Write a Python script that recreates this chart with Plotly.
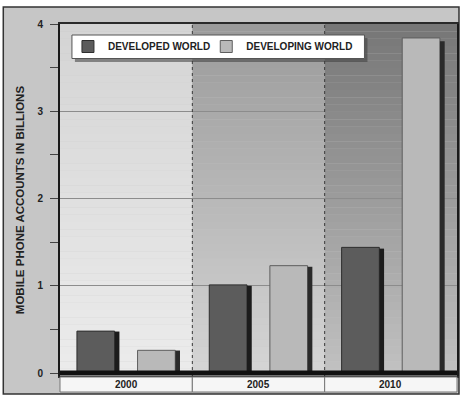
import plotly.graph_objects as go

# ---- data ----
years = ["2000", "2005", "2010"]
developed = [0.48, 1.01, 1.44]
developing = [0.26, 1.23, 3.84]
series_names = ["DEVELOPED WORLD", "DEVELOPING WORLD"]
y_ticks = [0, 1, 2, 3, 4]
y_title = "MOBILE PHONE ACCOUNTS IN BILLIONS"

# ---- layout constants (pixels) ----
W, H = 464, 397
ML, MR, MT, MB = 60, 5, 24, 21
PW, PH = W - ML - MR, H - MT - MB
Y_LO = -3 / 87.25
Y_HI = 4.0
FONT = "Liberation Sans, Arial, sans-serif"

def px_x(p):
    return (p - ML) / PW

def px_y(p):
    return (H - MB - p) / PH

pos = list(range(len(years)))

def mix(c1, c2, t):
    a = [int(c1[i:i + 2], 16) for i in (1, 3, 5)]
    b = [int(c2[i:i + 2], 16) for i in (1, 3, 5)]
    return "rgb(%d,%d,%d)" % tuple(round(a[k] + (b[k] - a[k]) * t) for k in range(3))

panel_top = ["#d4d4d4", "#9a9a9a", "#767676"]
panel_bot = ["#ececec", "#d6d6d6", "#c2c2c2"]

shapes = []
# outer frame
shapes.append(dict(type="rect", xref="paper", yref="paper",
                   x0=px_x(3), x1=px_x(461), y0=px_y(394), y1=px_y(7),
                   fillcolor="#c6c6c6", line=dict(color="#333333", width=1.5),
                   layer="below"))
# panel gradients
NB = 48
for i in pos:
    for k in range(NB):
        y0 = Y_LO + (Y_HI - Y_LO) * k / NB
        y1 = Y_LO + (Y_HI - Y_LO) * (k + 1) / NB
        t = (k + 0.5) / NB
        shapes.append(dict(type="rect", xref="x", yref="y",
                           x0=i - 0.5, x1=i + 0.5, y0=y0, y1=y1 + 0.002,
                           fillcolor=mix(panel_bot[i], panel_top[i], t),
                           line=dict(width=0), layer="below"))
# dotted separators
for i in pos[:-1]:
    shapes.append(dict(type="line", xref="x", yref="y", x0=i + 0.5, x1=i + 0.5,
                       y0=Y_LO, y1=Y_HI, line=dict(color="#3a3a3a", width=1, dash="dot"),
                       layer="between"))
# baseline
shapes.append(dict(type="line", xref="paper", yref="y", x0=0, x1=1, y0=0, y1=0,
                   line=dict(color="#111111", width=5), layer="above"))
# category label boxes
n = len(years)
for i in pos:
    shapes.append(dict(type="rect", xref="paper", yref="paper",
                       x0=i / n, x1=(i + 1) / n, y0=px_y(392), y1=px_y(377),
                       fillcolor="#f6f6f6", line=dict(color="#777777", width=1)))
# legend shadow + box
shapes.append(dict(type="rect", xref="paper", yref="paper",
                   x0=px_x(75), x1=px_x(369), y0=px_y(62), y1=px_y(38),
                   fillcolor="rgba(60,60,60,0.55)", line=dict(width=0), layer="above"))
shapes.append(dict(type="rect", xref="paper", yref="paper",
                   x0=px_x(72), x1=px_x(366), y0=px_y(58.5), y1=px_y(35),
                   fillcolor="white", line=dict(color="#555555", width=1), layer="above"))

annotations = []
for i, yr in enumerate(years):
    annotations.append(dict(xref="paper", yref="paper", x=(i + 0.5) / n, y=px_y(384.5),
                            text="<b>%s</b>" % yr, showarrow=False,
                            font=dict(family=FONT, size=10, color="#222222"),
                            xanchor="center", yanchor="middle"))
annotations.append(dict(xref="paper", yref="paper", x=px_x(20), y=0.5, text="<b>%s</b>" % y_title,
                        textangle=-90, showarrow=False,
                        font=dict(family=FONT, size=11.5, color="#222222"),
                        xanchor="center", yanchor="middle"))

BW = 0.285
OFF_DEV = -0.372
OFF_DVG = 0.086
SIDE = 0.036

fig = go.Figure()
fig.add_trace(go.Bar(x=pos, y=developed, name="<b>%s</b>" % series_names[0],
                     width=BW, offset=OFF_DEV, legend="legend",
                     marker=dict(color="#5c5c5c", line=dict(color="#2e2e2e", width=1)),
                     hoverinfo="skip"))
fig.add_trace(go.Bar(x=pos, y=developing, name="<b>%s</b>" % series_names[1],
                     width=BW, offset=OFF_DVG, legend="legend2",
                     marker=dict(color="#b9b9b9", line=dict(color="#5e5e5e", width=1)),
                     hoverinfo="skip"))
# 3D side faces
fig.add_trace(go.Bar(x=pos, y=[v * 0.99 for v in developed], width=SIDE, offset=OFF_DEV + BW,
                     marker=dict(color="#1c1c1c", line=dict(width=0)),
                     showlegend=False, hoverinfo="skip"))
fig.add_trace(go.Bar(x=pos, y=[v * 0.99 for v in developing], width=SIDE, offset=OFF_DVG + BW,
                     marker=dict(color="#2a2a2a", line=dict(width=0)),
                     showlegend=False, hoverinfo="skip"))

leg_common = dict(orientation="h", xanchor="left", yanchor="middle",
                  bgcolor="rgba(0,0,0,0)", borderwidth=0,
                  font=dict(family=FONT, size=10, color="#222222"))

fig.update_layout(
    width=W, height=H,
    margin=dict(l=ML, r=MR, t=MT, b=MB, pad=0),
    paper_bgcolor="white", plot_bgcolor="#e6e6e6",
    barmode="overlay",
    font=dict(family=FONT, size=10, color="#222222"),
    showlegend=True,
    legend=dict(x=px_x(68), y=px_y(46.5), **leg_common),
    legend2=dict(x=px_x(207), y=px_y(46.5), **leg_common),
    xaxis=dict(range=[-0.5, n - 0.5], showticklabels=False, showgrid=False, zeroline=False,
               showline=True, linecolor="#2a2a2a", linewidth=1.5, mirror=True, ticks=""),
    yaxis=dict(range=[Y_LO, Y_HI], tickvals=y_ticks, ticktext=["<b>%d</b>" % v for v in y_ticks],
               ticks="outside", ticklen=8, tickcolor="#444444", tickwidth=1,
               ticklabelstandoff=5,
               minor=dict(dtick=0.5, ticks="outside", ticklen=8, tickcolor="#444444", showgrid=False),
               showgrid=True, gridcolor="#8c8c8c", gridwidth=1, zeroline=False,
               showline=True, linecolor="#1a1a1a", linewidth=2, mirror=True,
               tickfont=dict(family=FONT, size=10, color="#222222")),
    shapes=shapes, annotations=annotations,
)

fig.write_html("out.html", config={"displayModeBar": False},
               post_script="document.body.style.margin='0';document.body.style.padding='0';")
